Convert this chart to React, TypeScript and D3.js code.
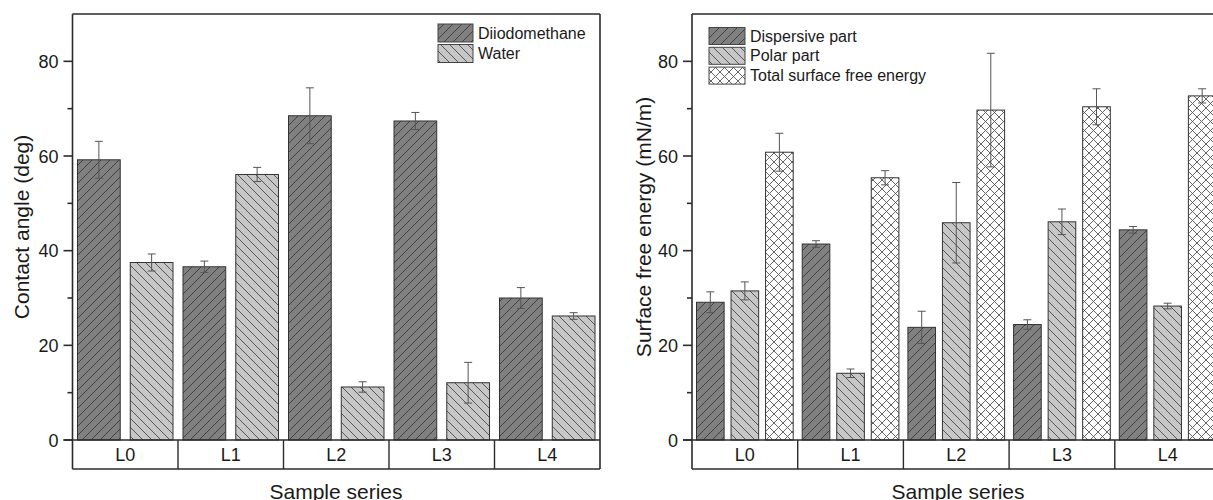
import React from "react";
import * as d3 from "d3";

const categories = ["L0", "L1", "L2", "L3", "L4"];
const yTicks = [0, 20, 40, 60, 80];
const yMinorTicks = [10, 30, 50, 70];

const contactSeries = ["Diiodomethane", "Water"];
const diiodomethane = [59.2, 36.6, 68.5, 67.4, 30.0];
const diiodomethaneErr = [3.9, 1.2, 5.9, 1.8, 2.2];
const water = [37.5, 56.1, 11.2, 12.1, 26.2];
const waterErr = [1.8, 1.5, 1.1, 4.3, 0.7];

const energySeries = ["Dispersive part", "Polar part", "Total surface free energy"];
const dispersive = [29.1, 41.4, 23.8, 24.4, 44.4];
const dispersiveErr = [2.2, 0.7, 3.4, 1.0, 0.7];
const polar = [31.5, 14.1, 45.9, 46.1, 28.3];
const polarErr = [1.9, 0.9, 8.5, 2.7, 0.6];
const total = [60.8, 55.4, 69.7, 70.4, 72.7];
const totalErr = [4.0, 1.5, 12.0, 3.8, 1.5];

const FONT = "Liberation Sans, Arial, Helvetica, sans-serif";
const AXIS = "#2b2b2b";
const TEXT = "#1a1a1a";

const patternIds = ["hatchDark", "hatchLight", "hatchCross"];

function Patterns() {
  const s = 9;
  return (
    <defs>
      <pattern id="hatchDark" patternUnits="userSpaceOnUse" width={s} height={s}>
        <rect width={s} height={s} fill="#808080" />
        <path d={`M0,${s} L${s},0 M${-s / 2},${s / 2} L${s / 2},${-s / 2} M${s / 2},${s * 1.5} L${s * 1.5},${s / 2}`} stroke="#3a3a3a" strokeWidth={0.9} />
      </pattern>
      <pattern id="hatchLight" patternUnits="userSpaceOnUse" width={s} height={s}>
        <rect width={s} height={s} fill="#c7c7c7" />
        <path d={`M0,0 L${s},${s} M${-s / 2},${s / 2} L${s / 2},${s * 1.5} M${s / 2},${-s / 2} L${s * 1.5},${s / 2}`} stroke="#4a4a4a" strokeWidth={0.9} />
      </pattern>
      <pattern id="hatchCross" patternUnits="userSpaceOnUse" width={s} height={s}>
        <rect width={s} height={s} fill="#ffffff" />
        <path d={`M0,${s} L${s},0 M${-s / 2},${s / 2} L${s / 2},${-s / 2} M${s / 2},${s * 1.5} L${s * 1.5},${s / 2}`} stroke="#555" strokeWidth={0.9} />
        <path d={`M0,0 L${s},${s} M${-s / 2},${s / 2} L${s / 2},${s * 1.5} M${s / 2},${-s / 2} L${s * 1.5},${s / 2}`} stroke="#555" strokeWidth={0.9} />
      </pattern>
    </defs>
  );
}

type PanelProps = {
  left: number;
  right: number;
  series: string[];
  values: number[][];
  errors: number[][];
  innerPad: number;
  outerPad: number;
  yLabel: string;
  yLabelX: number;
  xLabelX: number;
  legendX: number;
  legendY: number;
  legendW: number;
  legendH: number;
  legendStep: number;
  drawRight: boolean;
};

function Panel(p: PanelProps) {
  const top = 14;
  const bottom = 440;
  const boxBottom = 469;
  const y = d3.scaleLinear().domain([0, 90]).range([bottom, top]);
  const x = d3.scaleBand<string>().domain(categories).range([p.left, p.right]).padding(0);
  const bw = x.bandwidth();
  const sub = d3
    .scaleBand<string>()
    .domain(p.series)
    .range([p.outerPad, bw - p.outerPad])
    .paddingInner(p.innerPad)
    .paddingOuter(0);
  const barW = sub.bandwidth();

  return (
    <g>
      {/* bars */}
      {categories.map((c, ci) =>
        p.series.map((s, si) => {
          const v = p.values[si][ci];
          const bx = (x(c) as number) + (sub(s) as number);
          return (
            <rect
              key={c + s}
              x={bx}
              y={y(v)}
              width={barW}
              height={y(0) - y(v)}
              fill={`url(#${patternIds[si]})`}
              stroke="#333"
              strokeWidth={1}
            />
          );
        })
      )}
      {/* error bars */}
      {categories.map((c, ci) =>
        p.series.map((s, si) => {
          const v = p.values[si][ci];
          const e = p.errors[si][ci];
          const cx = (x(c) as number) + (sub(s) as number) + barW / 2;
          const cap = 4;
          return (
            <g key={"e" + c + s} stroke="#555" strokeWidth={1}>
              <line x1={cx} x2={cx} y1={y(v + e)} y2={y(v - e)} />
              <line x1={cx - cap} x2={cx + cap} y1={y(v + e)} y2={y(v + e)} />
              <line x1={cx - cap} x2={cx + cap} y1={y(v - e)} y2={y(v - e)} />
            </g>
          );
        })
      )}
      {/* frame */}
      <line x1={p.left} x2={p.left} y1={top} y2={boxBottom} stroke={AXIS} strokeWidth={1.6} />
      <line x1={p.left} x2={p.drawRight ? p.right : 1213} y1={top} y2={top} stroke={AXIS} strokeWidth={1.6} />
      {p.drawRight && (
        <line x1={p.right} x2={p.right} y1={top} y2={boxBottom} stroke={AXIS} strokeWidth={1.6} />
      )}
      <line x1={p.left - 9} x2={p.right} y1={bottom} y2={bottom} stroke={AXIS} strokeWidth={1.6} />
      <line x1={p.left} x2={p.right} y1={boxBottom} y2={boxBottom} stroke={AXIS} strokeWidth={1.6} />
      {categories.slice(1).map((c) => (
        <line key={"sep" + c} x1={x(c) as number} x2={x(c) as number} y1={bottom} y2={boxBottom} stroke={AXIS} strokeWidth={1.4} />
      ))}
      {categories.map((c) => (
        <text
          key={"cl" + c}
          x={(x(c) as number) + bw / 2}
          y={461}
          textAnchor="middle"
          fontSize={18}
          fontFamily={FONT}
          fill={TEXT}
        >
          {c}
        </text>
      ))}
      {/* y ticks */}
      {yTicks.map((t) => (
        <g key={"t" + t}>
          <line x1={p.left - 9} x2={p.left} y1={y(t)} y2={y(t)} stroke={AXIS} strokeWidth={1.6} />
          <text x={p.left - 14} y={y(t) + 6.5} textAnchor="end" fontSize={18} fontFamily={FONT} fill={TEXT}>
            {t}
          </text>
        </g>
      ))}
      {yMinorTicks.map((t) => (
        <line key={"m" + t} x1={p.left - 5} x2={p.left} y1={y(t)} y2={y(t)} stroke={AXIS} strokeWidth={1.6} />
      ))}
      {/* axis labels */}
      <text
        transform={`translate(${p.yLabelX},${(top + bottom) / 2}) rotate(-90)`}
        textAnchor="middle"
        fontSize={21}
        fontFamily={FONT}
        fill={TEXT}
      >
        {p.yLabel}
      </text>
      <text x={p.xLabelX} y={499} textAnchor="middle" fontSize={21} fontFamily={FONT} fill={TEXT}>
        Sample series
      </text>
      {/* legend */}
      {p.series.map((s, si) => (
        <g key={"lg" + s}>
          <rect
            x={p.legendX}
            y={p.legendY + si * p.legendStep}
            width={p.legendW}
            height={p.legendH}
            fill={`url(#${patternIds[si]})`}
            stroke="#444"
            strokeWidth={1}
          />
          <text
            x={p.legendX + p.legendW + 5}
            y={p.legendY + si * p.legendStep + p.legendH / 2 + 5.5}
            fontSize={16}
            fontFamily={FONT}
            fill={TEXT}
          >
            {s}
          </text>
        </g>
      ))}
    </g>
  );
}

export default function App() {
  return (
    <svg
      width={1213}
      height={500}
      style={{ position: "absolute", left: 0, top: 0, background: "#fff" }}
    >
      <Patterns />
      <Panel
        left={72.5}
        right={600}
        series={contactSeries}
        values={[diiodomethane, water]}
        errors={[diiodomethaneErr, waterErr]}
        innerPad={0.19}
        outerPad={5}
        yLabel="Contact angle (deg)"
        yLabelX={29}
        xLabelX={336}
        legendX={438}
        legendY={24}
        legendW={35}
        legendH={18}
        legendStep={20.5}
        drawRight={true}
      />
      <Panel
        left={692}
        right={1220.5}
        series={energySeries}
        values={[dispersive, polar, total]}
        errors={[dispersiveErr, polarErr, totalErr]}
        innerPad={0.2}
        outerPad={4.5}
        yLabel="Surface free energy (mN/m)"
        yLabelX={651}
        xLabelX={958}
        legendX={709}
        legendY={27.5}
        legendW={36}
        legendH={17}
        legendStep={19.8}
        drawRight={false}
      />
    </svg>
  );
}
